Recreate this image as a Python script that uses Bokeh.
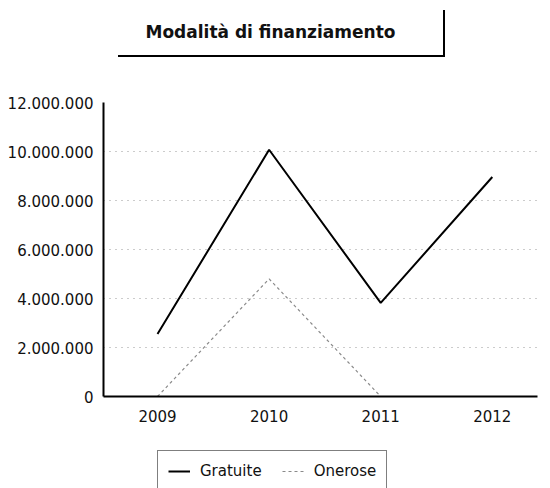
from bokeh.plotting import figure
from bokeh.models import (Range1d, FixedTicker, CustomJSTickFormatter, Legend, LegendItem,
                          ColumnDataSource, Div)
from bokeh.layouts import column
from bokeh.embed import file_html
from bokeh.resources import INLINE

# Data
years = [2009, 2010, 2011, 2012]
gratuite = [2550000, 10070000, 3820000, 8960000]
onerose = [0, 4800000, 0, 0]
y_ticks = [0, 2000000, 4000000, 6000000, 8000000, 10000000, 12000000]
series_names = ["Gratuite", "Onerose"]
title_text = "Modalità di finanziamento"

FONT = "DejaVu Sans"
G_STYLE = dict(line_color="black", line_width=2)
O_STYLE = dict(line_color="#8a8a8a", line_width=1.2, line_dash="3 3")

title = Div(text=('<div style="margin-left:113px;margin-top:5px;width:327px;height:47px;'
                  'box-sizing:border-box;border-bottom:2px solid #000;border-right:2px solid #000;'
                  'padding-right:20px;'
                  'display:flex;align-items:center;justify-content:center;'
                  "font-family:'DejaVu Sans';font-weight:bold;font-size:17px;color:#111;\">"
                  + title_text + '</div>'),
            width=542, height=66)

p = figure(width=542, height=350, x_range=Range1d(2008.516, 2012.405), y_range=Range1d(0, 12000000),
           output_backend="svg", toolbar_location=None,
           min_border_left=103, min_border_right=5, min_border_top=26, min_border_bottom=30)
p.outline_line_color = None
p.xgrid.visible = False
p.ygrid.grid_line_color = "#999999"
p.ygrid.grid_line_dash = "1 5"
p.ygrid.grid_line_width = 1

src = ColumnDataSource(dict(x=years, g=gratuite, o=onerose))
p.line("x", "g", source=src, **G_STYLE)
p.line("x", "o", source=src, **O_STYLE)

p.xaxis.ticker = FixedTicker(ticks=years)
p.yaxis.ticker = FixedTicker(ticks=y_ticks)
p.yaxis.formatter = CustomJSTickFormatter(code='return tick.toFixed(0).replace(/\\B(?=(\\d{3})+(?!\\d))/g, ".");')
for ax in (p.xaxis[0], p.yaxis[0]):
    ax.axis_line_color = "black"
    ax.axis_line_width = 2
    ax.major_tick_line_color = None
    ax.minor_tick_line_color = None
    ax.major_label_text_font = FONT
    ax.major_label_text_font_size = "15px"
    ax.major_label_text_color = "#111"
p.yaxis.major_label_standoff = 4
p.xaxis.major_label_standoff = 7

# Legend strip below the chart: same series, drawn outside its visible range, used only for the key
lf = figure(width=542, height=63, x_range=Range1d(0, 1), y_range=Range1d(0, 1),
            output_backend="svg", toolbar_location=None,
            min_border_left=103, min_border_right=5, min_border_top=0, min_border_bottom=0)
lf.axis.visible = False
lf.grid.visible = False
lf.outline_line_color = None
lsrc = ColumnDataSource(dict(x=years, g=gratuite, o=onerose))
lg1 = lf.line("x", "g", source=lsrc, **G_STYLE)
lg2 = lf.line("x", "o", source=lsrc, **O_STYLE)
legend = Legend(items=[LegendItem(label=series_names[0], renderers=[lg1]),
                       LegendItem(label=series_names[1], renderers=[lg2])],
                orientation="horizontal", location=(54, -3))
legend.border_line_color = "black"
legend.border_line_width = 1.5
legend.label_text_font = FONT
legend.label_text_font_size = "15px"
legend.label_text_color = "#111"
legend.glyph_width = 22
legend.label_standoff = 10
legend.spacing = 20
legend.padding = 10
legend.margin = 0
lf.add_layout(legend)

layout = column(title, p, lf, spacing=0)
open("out.html", "w").write(file_html(layout, INLINE))
